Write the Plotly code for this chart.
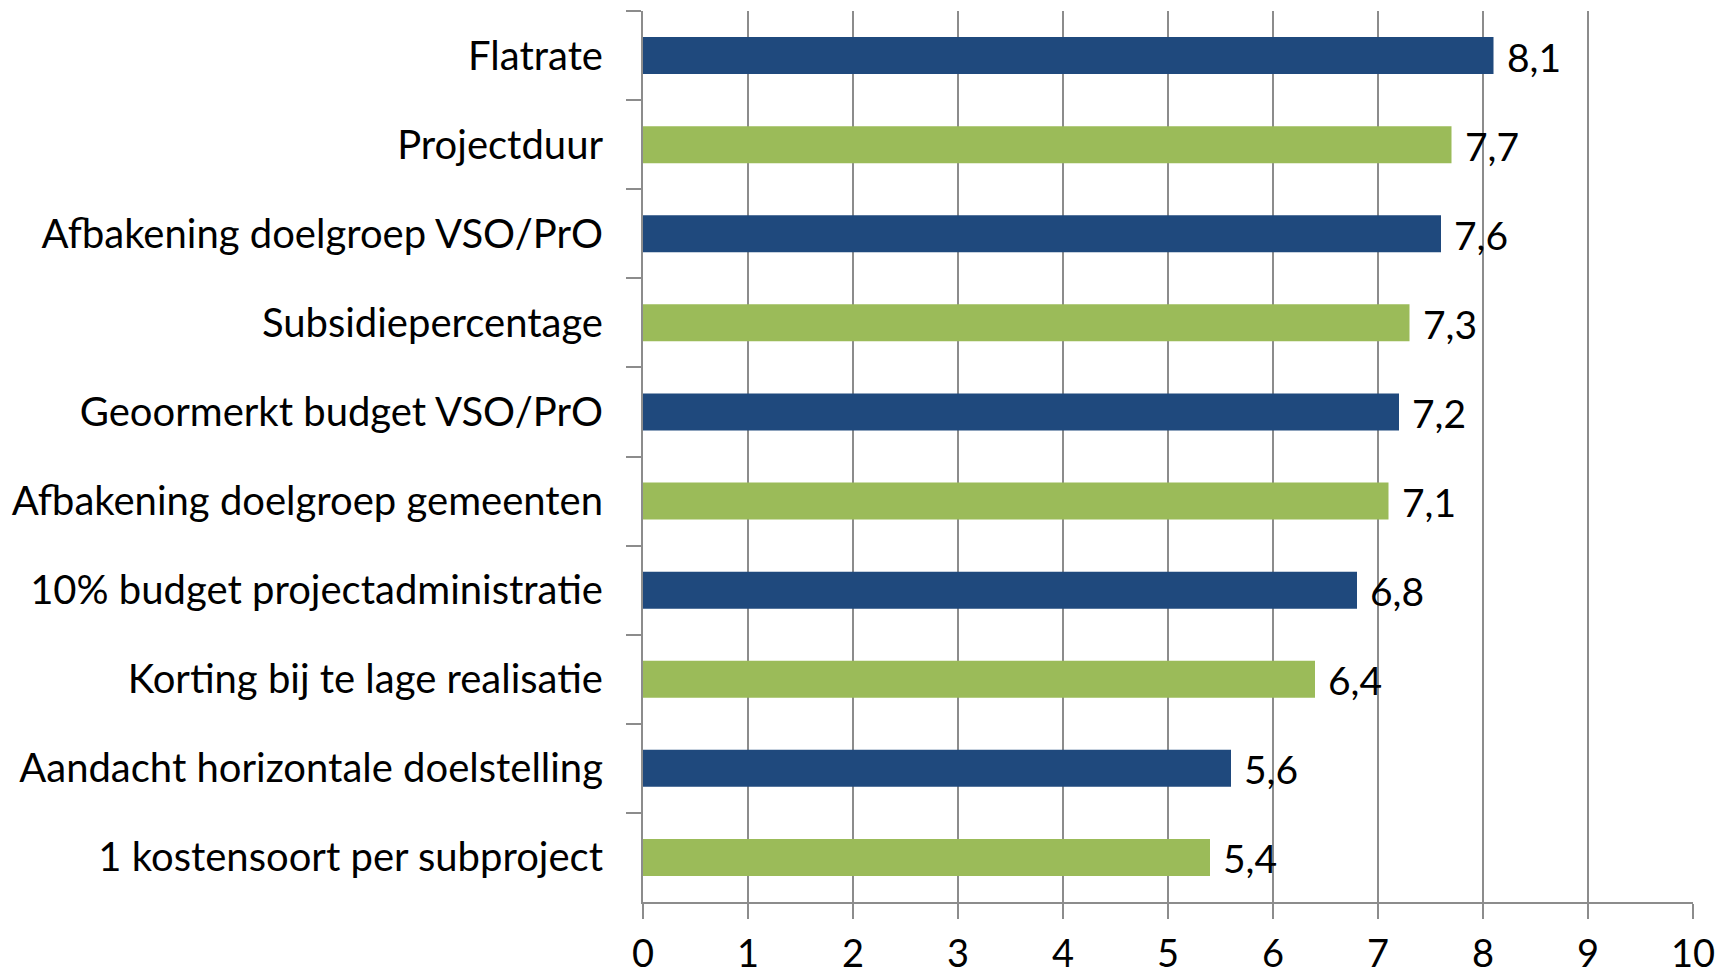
import plotly.graph_objects as go

categories = [
    "Flatrate",
    "Projectduur",
    "Afbakening doelgroep VSO/PrO",
    "Subsidiepercentage",
    "Geoormerkt budget VSO/PrO",
    "Afbakening doelgroep gemeenten",
    "10% budget projectadministratie",
    "Korting bij te lage realisatie",
    "Aandacht horizontale doelstelling",
    "1 kostensoort per subproject",
]
values = [8.1, 7.7, 7.6, 7.3, 7.2, 7.1, 6.8, 6.4, 5.6, 5.4]
x_ticks = [0, 1, 2, 3, 4, 5, 6, 7, 8, 9, 10]

BLUE = "#1F497D"
GREEN = "#9BBB59"
colors = [BLUE if i % 2 == 0 else GREEN for i in range(len(categories))]
labels = [f"{v:.1f}".replace(".", ",") for v in values]

FONT = "Lato, 'Open Sans', sans-serif"
FS = 40

fig = go.Figure()
fig.add_trace(go.Bar(
    x=values, y=categories, orientation="h",
    marker=dict(color=colors, line=dict(width=0)),
    hoverinfo="x+y",
))

for c, v, t in zip(categories, values, labels):
    fig.add_annotation(x=v, y=c, text=t, showarrow=False, xanchor="left",
                       xshift=11, yshift=-1, font=dict(family=FONT, size=39, color="black"))

fig.update_layout(
    width=1724, height=974,
    margin=dict(l=643, r=31, t=11, b=72, autoexpand=False),
    paper_bgcolor="white", plot_bgcolor="white",
    bargap=0.585,
    showlegend=False,
    font=dict(family=FONT, size=FS, color="black"),
)
fig.update_xaxes(
    range=[0, 10], tickvals=x_ticks, ticktext=[str(t) for t in x_ticks],
    showgrid=True, gridcolor="#8C8C8C", gridwidth=2,
    showline=True, linecolor="#8C8C8C", linewidth=2,
    ticks="outside", ticklen=15, tickwidth=2, tickcolor="#8C8C8C",
    ticklabelstandoff=2,
    zeroline=False,
    tickfont=dict(family=FONT, size=38, color="black"),
)
fig.update_yaxes(
    categoryorder="array", categoryarray=categories, autorange="reversed",
    showgrid=False, showline=True, linecolor="#8C8C8C", linewidth=2,
    ticks="outside", tickson="boundaries", ticklen=15, tickwidth=2, tickcolor="#8C8C8C",
    ticklabelstandoff=30,
    tickfont=dict(family=FONT, size=FS, color="black"),
)

fig.write_html(
    "out.html",
    config={"displayModeBar": False},
    post_script="document.body.style.margin='0';document.body.style.overflow='hidden';",
)
